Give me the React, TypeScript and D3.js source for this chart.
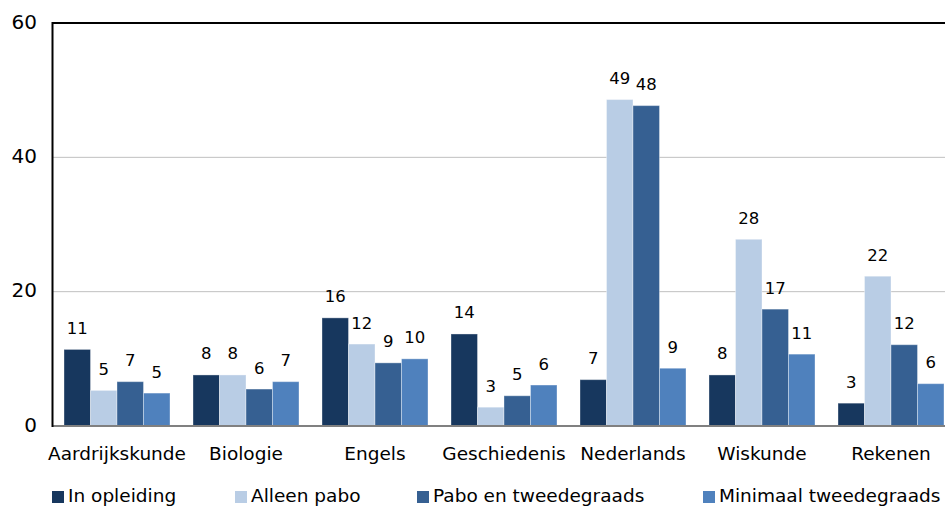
import React from "react";
import * as d3 from "d3";

const categories = ["Aardrijkskunde", "Biologie", "Engels", "Geschiedenis", "Nederlands", "Wiskunde", "Rekenen"];
const seriesNames = ["In opleiding", "Alleen pabo", "Pabo en tweedegraads", "Minimaal tweedegraads"];
const inOpleiding = [11.4, 7.6, 16.1, 13.7, 6.9, 7.6, 3.4];
const alleenPabo = [5.3, 7.6, 12.2, 2.8, 48.6, 27.8, 22.3];
const paboEnTweedegraads = [6.6, 5.5, 9.4, 4.5, 47.7, 17.4, 12.1];
const minimaalTweedegraads = [4.9, 6.6, 10.0, 6.1, 8.6, 10.7, 6.3];
const yTicks = [0, 20, 40, 60];
const colors = ["#17375e", "#b9cde5", "#366092", "#4f81bd"];

const seriesValues = [inOpleiding, alleenPabo, paboEnTweedegraads, minimaalTweedegraads];

export default function App() {
  const W = 945, H = 511;
  const left = 52.5, top = 23, bottom = 426;
  const band = 129;
  const right = left + band * categories.length;
  const x = d3.scaleBand().domain(categories).range([left, right]).paddingInner(23 / 129).paddingOuter(11.5 / 129);
  const x1 = d3.scaleBand().domain(seriesNames).range([0, x.bandwidth()]);
  const y = d3.scaleLinear().domain([0, 60]).range([bottom, top]);
  const font = "'DejaVu Sans', sans-serif";

  const legendX = [52, 235, 417, 703];

  return (
    <svg width={W} height={H} style={{ position: "fixed", left: 0, top: 0, background: "#fff" }} fontFamily={font}>
      <rect x={0} y={0} width={W} height={H} fill="#fff" />
      {yTicks.filter(t => t > 0 && t < 60).map(t => (
        <line key={t} x1={left} x2={W} y1={y(t)} y2={y(t)} stroke="#c0c0c0" strokeWidth={1} />
      ))}
      {seriesValues.map((vals, si) =>
        vals.map((v, ci) => (
          <rect key={`${si}-${ci}`} x={(x(categories[ci]) as number) + (x1(seriesNames[si]) as number)}
            y={y(v)} width={x1.bandwidth()} height={y(0) - y(v)} fill={colors[si]}
            stroke="#ffffff" strokeOpacity={0.35} strokeWidth={1} />
        ))
      )}
      <line x1={left} x2={W} y1={y(0)} y2={y(0)} stroke="#808080" strokeWidth={2} />
      <line x1={left} x2={W} y1={y(60)} y2={y(60)} stroke="#000" strokeWidth={2} />
      <line x1={left} x2={left} y1={y(60) - 1} y2={y(0) + 1} stroke="#000" strokeWidth={2} />
      {yTicks.map(t => (
        <text key={t} x={37} y={y(t)} textAnchor="end" dominantBaseline="middle" fontSize={20} fill="#000">{t}</text>
      ))}
      {seriesValues.map((vals, si) =>
        vals.map((v, ci) => (
          <text key={`l${si}-${ci}`} x={(x(categories[ci]) as number) + (x1(seriesNames[si]) as number) + x1.bandwidth() / 2}
            y={y(v) - 20} textAnchor="middle" dominantBaseline="middle" fontSize={16.5} fill="#000">{Math.round(v)}</text>
        ))
      )}
      {categories.map(c => (
        <text key={c} x={(x(c) as number) + x.bandwidth() / 2} y={455} textAnchor="middle" dominantBaseline="middle" fontSize={18.5} fill="#000">{c}</text>
      ))}
      {seriesNames.map((s, i) => (
        <g key={s}>
          <rect x={legendX[i]} y={491} width={12} height={12} fill={colors[i]} />
          <text x={legendX[i] + 16} y={497} dominantBaseline="middle" fontSize={18.5} fill="#000">{s}</text>
        </g>
      ))}
    </svg>
  );
}
